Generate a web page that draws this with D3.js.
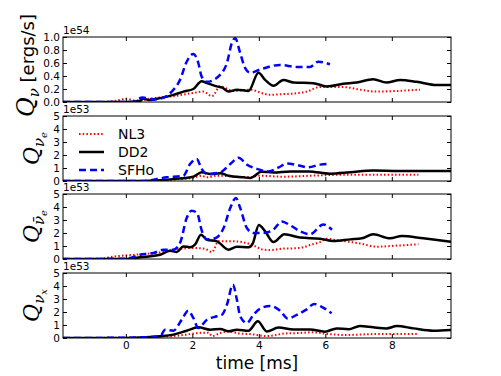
<!DOCTYPE html>
<html>
  <head>
    <script src="https://d3js.org/d3.v7.min.js"></script>
    <style>
      html, body { margin:0; padding:0; background:#fff; }
      svg { display:block; }
      text { font-family: "DejaVu Sans", sans-serif; fill:#000; }
    </style>
  </head>
  <body>
    <svg id="chart" width="501" height="376"></svg>
    <script>
      // series names and legend
      var seriesNames = ["NL3", "DD2", "SFHo"];
      var xTicks = [0, 2, 4, 6, 8];

      // Q_nu total (1e54 ergs/s), [time ms, value]
      var nl3Tot = [[-1.89,0],[-0.6,0],[-0.3,0.02],[0.03,0.05],[0.3,0.02],[0.83,0.06],[1.43,0.09],[2.03,0.14],[2.33,0.16],[2.59,0.09],[2.84,0.24],[3.24,0.17],[3.74,0.19],[4.14,0.13],[4.34,0.11],[4.64,0.12],[5.04,0.13],[5.44,0.16],[5.84,0.23],[6.35,0.23],[6.54,0.23],[7.04,0.19],[7.54,0.16],[8.15,0.17],[8.85,0.19]];
      var dd2Tot = [[-1.89,0],[0,0],[0.43,0.02],[0.52,0.05],[0.7,0.03],[1.03,0.06],[1.43,0.11],[1.73,0.16],[2.03,0.2],[2.28,0.32],[2.44,0.29],[2.74,0.24],[2.9,0.22],[3.09,0.16],[3.34,0.19],[3.69,0.17],[3.99,0.45],[4.19,0.34],[4.44,0.25],[4.74,0.34],[5.04,0.3],[5.64,0.29],[6.04,0.24],[6.54,0.28],[6.94,0.3],[7.44,0.35],[7.84,0.3],[8.25,0.34],[8.75,0.31],[9.35,0.26],[9.78,0.26]];
      var sfhoTot = [[-1.89,0],[0.2,0],[0.5,0.07],[0.8,0.04],[1.03,0.05],[1.38,0.16],[1.63,0.34],[1.83,0.62],[2.03,0.74],[2.18,0.6],[2.28,0.39],[2.44,0.31],[2.84,0.42],[3.04,0.6],[3.19,0.91],[3.29,0.98],[3.44,0.75],[3.59,0.52],[3.74,0.45],[4.04,0.5],[4.64,0.57],[5.14,0.54],[5.54,0.54],[5.79,0.62],[6.14,0.58]];

      // Q_nu_e (1e53)
      var nl3E = [[-1.89,0],[0.5,0],[1.0,0.05],[1.5,0.12],[2.03,0.25],[2.28,0.4],[2.44,0.28],[2.74,0.41],[3.2,0.35],[3.74,0.3],[4.04,0.41],[4.7,0.33],[5.6,0.41],[6.7,0.49],[7.7,0.49],[8.8,0.49]];
      var dd2E = [[-1.89,0],[0.5,0],[1.0,0.05],[1.43,0.15],[2.03,0.33],[2.28,0.67],[2.54,0.54],[2.84,0.59],[3.09,0.41],[3.54,0.28],[3.74,0.23],[3.85,0.35],[4.07,0.72],[4.44,0.66],[4.94,0.74],[5.5,0.74],[6.14,0.56],[6.75,0.67],[7.44,0.8],[8.2,0.77],[9.78,0.77]];
      var sfhoE = [[-1.89,0],[0.5,0],[1.23,0.28],[1.73,0.4],[1.93,1.3],[2.13,1.7],[2.28,0.93],[2.44,0.54],[2.84,0.67],[3.14,1.3],[3.39,1.78],[3.64,1.26],[3.94,0.93],[4.29,0.74],[4.6,1.05],[4.84,1.35],[5.2,1.2],[5.49,1.05],[5.84,1.26],[6.15,1.32]];

      // Q_anti-nu_e (1e53)
      var nl3A = [[-1.89,0],[-0.8,0.02],[-0.38,0.18],[0.43,0.36],[1.0,0.5],[1.42,0.7],[2.03,0.85],[2.39,0.77],[2.59,0.54],[2.79,1.36],[3.24,1.36],[3.74,1.15],[4.14,0.72],[4.34,0.69],[4.74,0.8],[5.04,0.82],[5.34,0.9],[5.54,1.08],[5.84,1.3],[6.04,1.55],[6.34,1.45],[7.04,1.2],[7.55,0.95],[8.15,1.03],[8.8,1.13]];
      var dd2A = [[-1.89,0],[0,0],[0.43,0.13],[1.03,0.33],[1.33,0.64],[1.53,0.54],[1.73,0.97],[1.93,0.9],[2.08,1.1],[2.26,1.87],[2.44,1.48],[2.74,1.36],[3.09,0.72],[3.34,0.95],[3.69,0.9],[3.82,1.2],[4.0,2.62],[4.19,2.13],[4.44,1.3],[4.77,1.9],[5.24,1.65],[5.84,1.56],[6.24,1.38],[6.75,1.51],[7.1,1.59],[7.44,1.9],[7.95,1.59],[8.3,1.77],[8.95,1.59],[9.78,1.33]];
      var sfhoA = [[-1.89,0],[0,0.02],[0.43,0.33],[0.83,0.46],[1.13,0.72],[1.43,0.72],[1.63,1.23],[1.83,3.15],[1.98,3.72],[2.14,3.54],[2.29,2.13],[2.44,1.5],[2.69,1.6],[2.94,2.38],[3.14,3.92],[3.31,4.7],[3.44,3.92],[3.64,2.38],[3.84,2.0],[4.14,2.0],[4.44,2.26],[4.69,2.88],[4.94,2.6],[5.24,2.13],[5.54,1.9],[5.94,2.65],[6.2,2.25]];

      // Q_nu_x (1e53)
      var nl3X = [[-1.89,0],[0,0.02],[1.0,0.1],[1.43,0.15],[1.8,0.25],[2.18,0.38],[2.48,0.41],[2.6,0.15],[2.84,0.38],[3.1,0.5],[3.4,0.35],[3.74,0.3],[4.24,0.15],[4.8,0.35],[5.2,0.38],[5.6,0.44],[6.1,0.3],[6.6,0.23],[7.5,0.3],[8.8,0.3]];
      var dd2X = [[-1.89,0],[0,0],[0.6,0.05],[1.03,0.13],[1.43,0.26],[1.83,0.56],[2.18,0.82],[2.54,0.64],[2.84,0.69],[3.09,0.51],[3.34,0.64],[3.69,0.56],[3.97,1.28],[4.24,0.5],[4.59,0.8],[5.04,0.66],[5.54,0.66],[5.99,0.49],[6.34,0.74],[6.7,0.67],[7.04,0.92],[7.44,0.82],[7.84,0.74],[8.15,0.92],[8.65,0.74],[9.25,0.56],[9.78,0.62]];
      var sfhoX = [[-1.89,0],[0,0.02],[0.5,0.05],[1.03,0.13],[1.18,0.64],[1.43,0.56],[1.68,1.41],[1.88,2.1],[2.03,1.54],[2.18,0.77],[2.44,1.41],[2.74,1.67],[2.89,1.79],[3.04,2.56],[3.22,4.1],[3.34,2.95],[3.44,1.67],[3.64,1.15],[3.84,1.79],[4.04,2.26],[4.34,2.47],[4.64,2.1],[4.87,1.5],[5.19,1.85],[5.44,2.2],[5.66,2.62],[5.92,2.36],[6.19,1.9]];

      var yTicksTot = [0, 0.2, 0.4, 0.6, 0.8, 1.0];
      var yTicksFlav = [0, 1, 2, 3, 4, 5];

      var panels = [
        { top: 37,  data: [nl3Tot, dd2Tot, sfhoTot], max: 1.0, ticks: yTicksTot, fmt: d3.format(".1f"), offset: "1e54", sub: "\u03bd", subsub: "", unit: " [ergs/s]" },
        { top: 116, data: [nl3E, dd2E, sfhoE], max: 5, ticks: yTicksFlav, fmt: d3.format("d"), offset: "1e53", sub: "\u03bd", subsub: "e" },
        { top: 194, data: [nl3A, dd2A, sfhoA], max: 5, ticks: yTicksFlav, fmt: d3.format("d"), offset: "1e53", sub: "\u03bd\u0304", subsub: "e" },
        { top: 273, data: [nl3X, dd2X, sfhoX], max: 5, ticks: yTicksFlav, fmt: d3.format("d"), offset: "1e53", sub: "\u03bd", subsub: "x" }
      ];

      var styles = [
        { color: "#ff0000", width: 2, dash: "1.5,2.2" },
        { color: "#000000", width: 2.5, dash: null },
        { color: "#0000ff", width: 2.5, dash: "7,4" }
      ];

      var left = 63, right = 451, ph = 65;
      var svg = d3.select("#chart");

      var x = d3.scaleLinear().domain([-1.89, 9.78]).range([left, right]);

      panels.forEach(function(p, i) {
        var y = d3.scaleLinear().domain([0, p.max]).range([p.top + ph, p.top]);
        var g = svg.append("g");

        g.append("clipPath").attr("id", "clip" + i)
          .append("rect").attr("x", left).attr("y", p.top).attr("width", right - left).attr("height", ph);

        var line = d3.line().x(function(d) { return x(d[0]); }).y(function(d) { return y(d[1]); })
          .curve(d3.curveMonotoneX);

        p.data.forEach(function(s, k) {
          g.append("path").datum(s)
            .attr("clip-path", "url(#clip" + i + ")")
            .attr("fill", "none")
            .attr("stroke", styles[k].color)
            .attr("stroke-width", styles[k].width)
            .attr("stroke-dasharray", styles[k].dash)
            .attr("d", line);
        });

        // inward ticks all round, labels left / bottom
        var yl = d3.axisLeft(y).tickValues(p.ticks).tickSize(-4).tickPadding(3).tickFormat(p.fmt);
        var yr = d3.axisRight(y).tickValues(p.ticks).tickSize(-4).tickFormat("");
        var xb = d3.axisBottom(x).tickValues(xTicks).tickSize(-4).tickPadding(4)
          .tickFormat(i == 3 ? d3.format("d") : "");
        var xt = d3.axisTop(x).tickValues(xTicks).tickSize(-4).tickFormat("");

        [g.append("g").attr("transform", "translate(" + left + ",0)").call(yl),
         g.append("g").attr("transform", "translate(" + right + ",0)").call(yr),
         g.append("g").attr("transform", "translate(0," + (p.top + ph) + ")").call(xb),
         g.append("g").attr("transform", "translate(0," + p.top + ")").call(xt)
        ].forEach(function(a) {
          a.select(".domain").remove();
          a.selectAll("text").attr("font-size", 10.5).attr("font-family", "DejaVu Sans").attr("fill", "#000");
          a.selectAll("line").attr("stroke", "#000");
        });

        g.append("rect").attr("x", left).attr("y", p.top).attr("width", right - left).attr("height", ph)
          .attr("fill", "none").attr("stroke", "#000").attr("stroke-width", 1);

        g.append("text").attr("x", left).attr("y", p.top - 3).attr("font-size", 10.5).text(p.offset);

        // y label
        var lx = i == 0 ? 34 : 39;
        var cy = p.top + ph / 2 + (i == 0 ? -4 : 0);
        var t = g.append("text")
          .attr("transform", "translate(" + lx + "," + cy + ") rotate(-90)")
          .attr("text-anchor", "middle");
        t.append("tspan").attr("font-family", "DejaVu Serif").attr("font-style", "italic").attr("font-size", i == 0 ? 24 : 22).text("Q");
        t.append("tspan").attr("font-family", "DejaVu Serif").attr("font-style", "italic").attr("font-size", 15).attr("dy", 5).text(p.sub);
        if (p.subsub) {
          t.append("tspan").attr("font-family", "DejaVu Serif").attr("font-style", "italic").attr("font-size", 10).attr("dy", 3).text(p.subsub);
        }
        if (p.unit) {
          t.append("tspan").attr("font-size", 18).attr("dy", -5).text(p.unit);
        }
      });

      // legend in second panel
      var legY = [134, 152, 170];
      seriesNames.forEach(function(name, k) {
        svg.append("line").attr("x1", 79).attr("x2", 104).attr("y1", legY[k]).attr("y2", legY[k])
          .attr("stroke", styles[k].color).attr("stroke-width", styles[k].width)
          .attr("stroke-dasharray", styles[k].dash);
        svg.append("text").attr("x", 118).attr("y", legY[k] + 5).attr("font-size", 14).text(name);
      });

      svg.append("text").attr("x", 257).attr("y", 369).attr("text-anchor", "middle")
        .attr("font-size", 17).text("time [ms]");
    </script>
  </body>
</html>
